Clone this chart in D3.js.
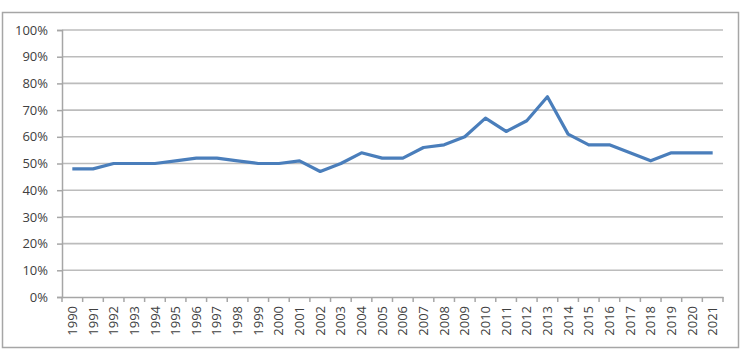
<!DOCTYPE html>
<html><head><meta charset="utf-8">
<script src="https://cdn.jsdelivr.net/npm/d3@7"></script>
<style>body{margin:0;background:#fff}svg{display:block}text{font-family:"Open Sans",Arial,sans-serif;fill:#404040}</style>
</head><body><svg id="c" width="750" height="360"></svg>
<script>
const years = ["1990","1991","1992","1993","1994","1995","1996","1997","1998","1999","2000","2001","2002","2003","2004","2005","2006","2007","2008","2009","2010","2011","2012","2013","2014","2015","2016","2017","2018","2019","2020","2021"];
const values = [48,48,50,50,50,51,52,52,51,50,50,51,47,50,54,52,52,56,57,60,67,62,66,75,61,57,57,54,51,54,54,54];
const yTicks = [0,10,20,30,40,50,60,70,80,90,100];

const svg = d3.select("#c");
svg.append("rect").attr("x",2.5).attr("y",12.5).attr("width",736).attr("height",335)
  .attr("fill","#fff").attr("stroke","#a6a6a6").attr("stroke-width",1.5);

const L=62, R=723, T=30, B=297;
const x = d3.scaleBand().domain(years).range([L,R]);
const y = d3.scaleLinear().domain([0,100]).range([B,T]);

// gridlines
svg.append("g").selectAll("line").data(yTicks.filter(d=>d>0)).join("line")
  .attr("x1",L).attr("x2",R).attr("y1",d=>y(d)).attr("y2",d=>y(d))
  .attr("stroke","#bcbcbc").attr("stroke-width",1.6);

// y axis
const ya = svg.append("g").attr("transform",`translate(${L},0)`)
  .call(d3.axisLeft(y).tickValues(yTicks).tickFormat(d=>d+"%").tickSize(5).tickPadding(9));
ya.select(".domain").attr("stroke","#a6a6a6").attr("stroke-width",1.5);
ya.selectAll(".tick line").attr("stroke","#a6a6a6").attr("stroke-width",1.5);
ya.selectAll("text").style("font-size","13px").attr("fill","#3a3a3a");

// x axis
const xa = svg.append("g").attr("transform",`translate(0,${B})`)
  .call(d3.axisBottom(x).tickSize(0).tickSizeOuter(0));
xa.select(".domain").attr("stroke","#a6a6a6").attr("stroke-width",1.5);
xa.selectAll(".tick line").remove();
xa.append("g").selectAll("line").data(years.concat(["end"])).join("line")
  .attr("x1",(d,i)=>L+i*x.step()).attr("x2",(d,i)=>L+i*x.step())
  .attr("y1",0).attr("y2",5).attr("stroke","#a6a6a6").attr("stroke-width",1.5);
xa.selectAll(".tick text").attr("transform","rotate(-90)")
  .attr("text-anchor","end").attr("x",-9).attr("y",0).attr("dy","0.35em")
  .style("font-size","13px").attr("fill","#3a3a3a");

// line
const line = d3.line().x((d,i)=>x(years[i])+x.bandwidth()/2).y(d=>y(d));
svg.append("path").datum(values).attr("d",line).attr("fill","none")
  .attr("stroke","#4a7ebb").attr("stroke-width",3.2).attr("stroke-linejoin","round");
</script></body></html>
